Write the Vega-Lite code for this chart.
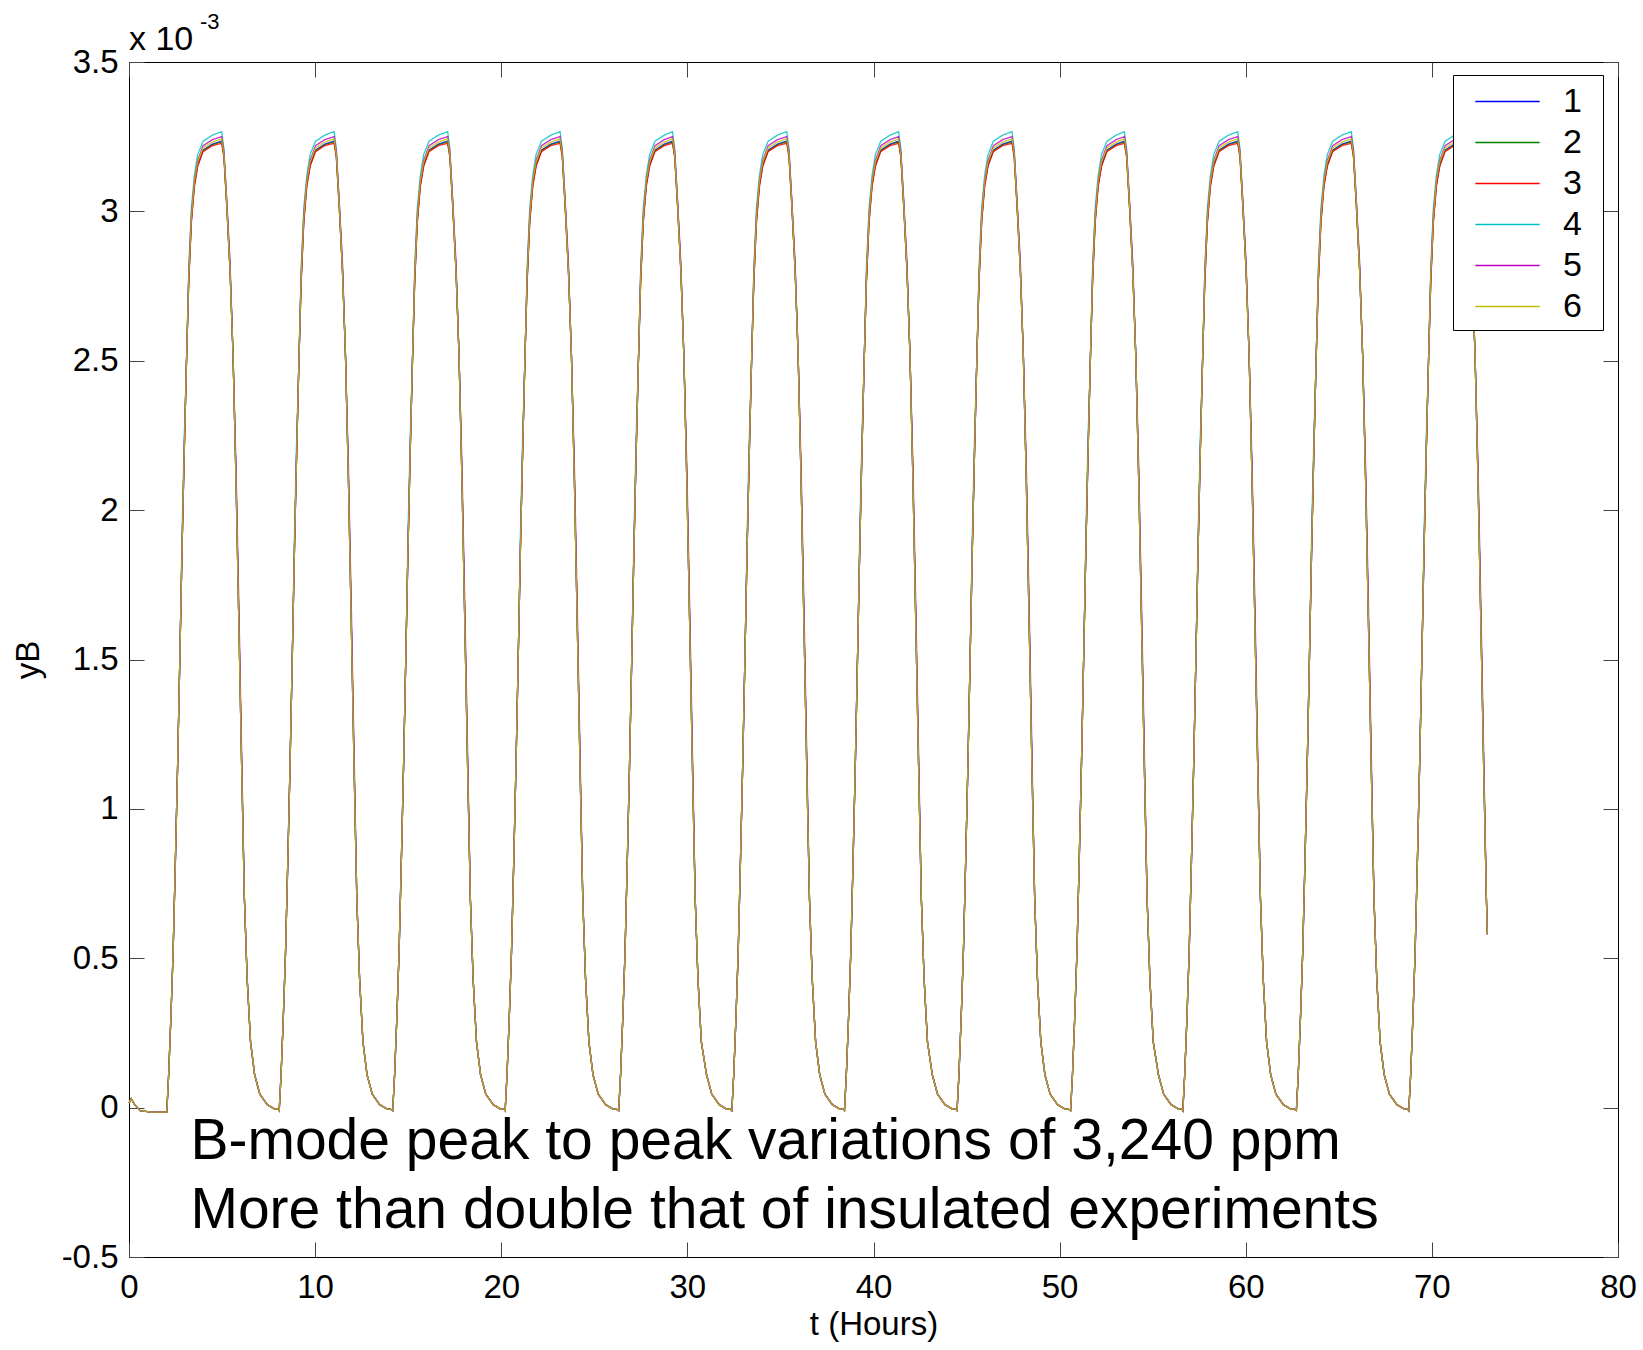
{
"$schema":"https://vega.github.io/schema/vega-lite/v6.json",
"width":1489,"height":1195,
"autosize":{"type":"none"},
"padding":{"left":129,"top":62,"right":25,"bottom":93},
"background":"white",
"config":{
"font":"Liberation Sans",
"view":{"stroke":"#000000","strokeWidth":1},
"axis":{"grid":false,"domain":false,"labelFont":"Liberation Sans","labelFontSize":33,"labelColor":"#000000","titleFont":"Liberation Sans","titleFontSize":33,"titleFontWeight":"normal","titleColor":"#000000","tickColor":"#444444","tickWidth":1,"tickSize":-15}
},
"data":{"values":[
{"t":0,"1":0.015,"2":0.015,"3":0.015,"4":0.015,"5":0.015,"6":0.015},
{"t":0.12,"1":0.03,"2":0.03,"3":0.03,"4":0.03,"5":0.03,"6":0.03},
{"t":0.3,"1":0.01,"2":0.01,"3":0.01,"4":0.01,"5":0.01,"6":0.01},
{"t":0.6,"1":-0.01,"2":-0.01,"3":-0.01,"4":-0.01,"5":-0.01,"6":-0.01},
{"t":1.2,"1":-0.015,"2":-0.015,"3":-0.015,"4":-0.015,"5":-0.015,"6":-0.015},
{"t":2.03,"1":-0.015,"2":-0.015,"3":-0.015,"4":-0.015,"5":-0.015,"6":-0.015},
{"t":2.13,"1":0.11,"2":0.11,"3":0.11,"4":0.11,"5":0.11,"6":0.11},
{"t":2.25,"1":0.3,"2":0.3,"3":0.3,"4":0.3,"5":0.3,"6":0.3},
{"t":2.37,"1":0.52,"2":0.52,"3":0.52,"4":0.52,"5":0.52,"6":0.52},
{"t":2.49,"1":0.82,"2":0.82,"3":0.82,"4":0.82,"5":0.82,"6":0.82},
{"t":2.61,"1":1.14,"2":1.14,"3":1.14,"4":1.14,"5":1.14,"6":1.14},
{"t":2.73,"1":1.5,"2":1.5,"3":1.5,"4":1.5,"5":1.5,"6":1.5},
{"t":2.85,"1":1.87,"2":1.87,"3":1.87,"4":1.92,"5":1.87,"6":1.87},
{"t":2.97,"1":2.2,"2":2.2,"3":2.2,"4":2.25,"5":2.2,"6":2.2},
{"t":3.09,"1":2.5,"2":2.5,"3":2.5,"4":2.5,"5":2.5,"6":2.5},
{"t":3.21,"1":2.77,"2":2.77,"3":2.76,"4":2.81,"5":2.79,"6":2.78},
{"t":3.35,"1":2.97,"2":2.97,"3":2.96,"4":3.01,"5":2.99,"6":2.98},
{"t":3.51,"1":3.09,"2":3.09,"3":3.08,"4":3.12,"5":3.1,"6":3.1},
{"t":3.69,"1":3.155,"2":3.155,"3":3.15,"4":3.19,"5":3.17,"6":3.165},
{"t":3.98,"1":3.205,"2":3.203,"3":3.2,"4":3.235,"5":3.22,"6":3.212},
{"t":4.48,"1":3.225,"2":3.223,"3":3.22,"4":3.255,"5":3.24,"6":3.232},
{"t":4.98,"1":3.235,"2":3.233,"3":3.228,"4":3.267,"5":3.25,"6":3.243},
{"t":5.1,"1":3.19,"2":3.185,"3":3.18,"4":3.21,"5":3.2,"6":3.19},
{"t":5.25,"1":3.03,"2":3.02,"3":3.02,"4":3.04,"5":3.04,"6":3.03},
{"t":5.43,"1":2.8,"2":2.8,"3":2.8,"4":2.81,"5":2.83,"6":2.8},
{"t":5.59,"1":2.52,"2":2.52,"3":2.52,"4":2.52,"5":2.52,"6":2.52},
{"t":5.75,"1":2.1,"2":2.1,"3":2.1,"4":2.1,"5":2.15,"6":2.1},
{"t":5.91,"1":1.6,"2":1.6,"3":1.6,"4":1.6,"5":1.66,"6":1.6},
{"t":6.06,"1":1.12,"2":1.12,"3":1.12,"4":1.12,"5":1.17,"6":1.12},
{"t":6.2,"1":0.7,"2":0.7,"3":0.7,"4":0.7,"5":0.7,"6":0.7},
{"t":6.35,"1":0.43,"2":0.43,"3":0.43,"4":0.43,"5":0.43,"6":0.43},
{"t":6.53,"1":0.22,"2":0.22,"3":0.22,"4":0.22,"5":0.22,"6":0.22},
{"t":6.75,"1":0.11,"2":0.11,"3":0.11,"4":0.11,"5":0.11,"6":0.11},
{"t":7.03,"1":0.045,"2":0.045,"3":0.045,"4":0.045,"5":0.045,"6":0.045},
{"t":7.43,"1":0.01,"2":0.01,"3":0.01,"4":0.01,"5":0.01,"6":0.01},
{"t":7.83,"1":-0.005,"2":-0.005,"3":-0.005,"4":-0.005,"5":-0.005,"6":-0.005},
{"t":8.01,"1":-0.005,"2":-0.005,"3":-0.005,"4":-0.005,"5":-0.005,"6":-0.005},
{"t":8.07,"1":-0.01,"2":-0.01,"3":-0.01,"4":-0.01,"5":-0.01,"6":-0.01},
{"t":8.17,"1":0.11,"2":0.11,"3":0.11,"4":0.11,"5":0.11,"6":0.11},
{"t":8.29,"1":0.3,"2":0.3,"3":0.3,"4":0.3,"5":0.3,"6":0.3},
{"t":8.41,"1":0.52,"2":0.52,"3":0.52,"4":0.52,"5":0.52,"6":0.52},
{"t":8.53,"1":0.82,"2":0.82,"3":0.82,"4":0.82,"5":0.82,"6":0.82},
{"t":8.65,"1":1.14,"2":1.14,"3":1.14,"4":1.14,"5":1.14,"6":1.14},
{"t":8.77,"1":1.5,"2":1.5,"3":1.5,"4":1.5,"5":1.5,"6":1.5},
{"t":8.89,"1":1.87,"2":1.87,"3":1.87,"4":1.92,"5":1.87,"6":1.87},
{"t":9.01,"1":2.2,"2":2.2,"3":2.2,"4":2.25,"5":2.2,"6":2.2},
{"t":9.13,"1":2.5,"2":2.5,"3":2.5,"4":2.5,"5":2.5,"6":2.5},
{"t":9.25,"1":2.77,"2":2.77,"3":2.76,"4":2.81,"5":2.79,"6":2.78},
{"t":9.39,"1":2.97,"2":2.97,"3":2.96,"4":3.01,"5":2.99,"6":2.98},
{"t":9.55,"1":3.09,"2":3.09,"3":3.08,"4":3.12,"5":3.1,"6":3.1},
{"t":9.73,"1":3.155,"2":3.155,"3":3.15,"4":3.19,"5":3.17,"6":3.165},
{"t":10.02,"1":3.205,"2":3.203,"3":3.2,"4":3.235,"5":3.22,"6":3.212},
{"t":10.52,"1":3.225,"2":3.223,"3":3.22,"4":3.255,"5":3.24,"6":3.232},
{"t":11.02,"1":3.235,"2":3.233,"3":3.228,"4":3.267,"5":3.25,"6":3.243},
{"t":11.14,"1":3.19,"2":3.185,"3":3.18,"4":3.21,"5":3.2,"6":3.19},
{"t":11.29,"1":3.03,"2":3.02,"3":3.02,"4":3.04,"5":3.04,"6":3.03},
{"t":11.47,"1":2.8,"2":2.8,"3":2.8,"4":2.81,"5":2.83,"6":2.8},
{"t":11.63,"1":2.52,"2":2.52,"3":2.52,"4":2.52,"5":2.52,"6":2.52},
{"t":11.79,"1":2.1,"2":2.1,"3":2.1,"4":2.1,"5":2.15,"6":2.1},
{"t":11.95,"1":1.6,"2":1.6,"3":1.6,"4":1.6,"5":1.66,"6":1.6},
{"t":12.1,"1":1.12,"2":1.12,"3":1.12,"4":1.12,"5":1.17,"6":1.12},
{"t":12.24,"1":0.7,"2":0.7,"3":0.7,"4":0.7,"5":0.7,"6":0.7},
{"t":12.39,"1":0.43,"2":0.43,"3":0.43,"4":0.43,"5":0.43,"6":0.43},
{"t":12.57,"1":0.22,"2":0.22,"3":0.22,"4":0.22,"5":0.22,"6":0.22},
{"t":12.79,"1":0.11,"2":0.11,"3":0.11,"4":0.11,"5":0.11,"6":0.11},
{"t":13.07,"1":0.045,"2":0.045,"3":0.045,"4":0.045,"5":0.045,"6":0.045},
{"t":13.47,"1":0.01,"2":0.01,"3":0.01,"4":0.01,"5":0.01,"6":0.01},
{"t":13.87,"1":-0.005,"2":-0.005,"3":-0.005,"4":-0.005,"5":-0.005,"6":-0.005},
{"t":14.05,"1":-0.005,"2":-0.005,"3":-0.005,"4":-0.005,"5":-0.005,"6":-0.005},
{"t":14.17,"1":-0.01,"2":-0.01,"3":-0.01,"4":-0.01,"5":-0.01,"6":-0.01},
{"t":14.27,"1":0.11,"2":0.11,"3":0.11,"4":0.11,"5":0.11,"6":0.11},
{"t":14.39,"1":0.3,"2":0.3,"3":0.3,"4":0.3,"5":0.3,"6":0.3},
{"t":14.51,"1":0.52,"2":0.52,"3":0.52,"4":0.52,"5":0.52,"6":0.52},
{"t":14.63,"1":0.82,"2":0.82,"3":0.82,"4":0.82,"5":0.82,"6":0.82},
{"t":14.75,"1":1.14,"2":1.14,"3":1.14,"4":1.14,"5":1.14,"6":1.14},
{"t":14.87,"1":1.5,"2":1.5,"3":1.5,"4":1.5,"5":1.5,"6":1.5},
{"t":14.99,"1":1.87,"2":1.87,"3":1.87,"4":1.92,"5":1.87,"6":1.87},
{"t":15.11,"1":2.2,"2":2.2,"3":2.2,"4":2.25,"5":2.2,"6":2.2},
{"t":15.23,"1":2.5,"2":2.5,"3":2.5,"4":2.5,"5":2.5,"6":2.5},
{"t":15.35,"1":2.77,"2":2.77,"3":2.76,"4":2.81,"5":2.79,"6":2.78},
{"t":15.49,"1":2.97,"2":2.97,"3":2.96,"4":3.01,"5":2.99,"6":2.98},
{"t":15.65,"1":3.09,"2":3.09,"3":3.08,"4":3.12,"5":3.1,"6":3.1},
{"t":15.83,"1":3.155,"2":3.155,"3":3.15,"4":3.19,"5":3.17,"6":3.165},
{"t":16.12,"1":3.205,"2":3.203,"3":3.2,"4":3.235,"5":3.22,"6":3.212},
{"t":16.62,"1":3.225,"2":3.223,"3":3.22,"4":3.255,"5":3.24,"6":3.232},
{"t":17.12,"1":3.235,"2":3.233,"3":3.228,"4":3.267,"5":3.25,"6":3.243},
{"t":17.24,"1":3.19,"2":3.185,"3":3.18,"4":3.21,"5":3.2,"6":3.19},
{"t":17.39,"1":3.03,"2":3.02,"3":3.02,"4":3.04,"5":3.04,"6":3.03},
{"t":17.57,"1":2.8,"2":2.8,"3":2.8,"4":2.81,"5":2.83,"6":2.8},
{"t":17.73,"1":2.52,"2":2.52,"3":2.52,"4":2.52,"5":2.52,"6":2.52},
{"t":17.89,"1":2.1,"2":2.1,"3":2.1,"4":2.1,"5":2.15,"6":2.1},
{"t":18.05,"1":1.6,"2":1.6,"3":1.6,"4":1.6,"5":1.66,"6":1.6},
{"t":18.2,"1":1.12,"2":1.12,"3":1.12,"4":1.12,"5":1.17,"6":1.12},
{"t":18.34,"1":0.7,"2":0.7,"3":0.7,"4":0.7,"5":0.7,"6":0.7},
{"t":18.49,"1":0.43,"2":0.43,"3":0.43,"4":0.43,"5":0.43,"6":0.43},
{"t":18.67,"1":0.22,"2":0.22,"3":0.22,"4":0.22,"5":0.22,"6":0.22},
{"t":18.89,"1":0.11,"2":0.11,"3":0.11,"4":0.11,"5":0.11,"6":0.11},
{"t":19.17,"1":0.045,"2":0.045,"3":0.045,"4":0.045,"5":0.045,"6":0.045},
{"t":19.57,"1":0.01,"2":0.01,"3":0.01,"4":0.01,"5":0.01,"6":0.01},
{"t":19.97,"1":-0.005,"2":-0.005,"3":-0.005,"4":-0.005,"5":-0.005,"6":-0.005},
{"t":20.15,"1":-0.005,"2":-0.005,"3":-0.005,"4":-0.005,"5":-0.005,"6":-0.005},
{"t":20.21,"1":-0.01,"2":-0.01,"3":-0.01,"4":-0.01,"5":-0.01,"6":-0.01},
{"t":20.31,"1":0.11,"2":0.11,"3":0.11,"4":0.11,"5":0.11,"6":0.11},
{"t":20.43,"1":0.3,"2":0.3,"3":0.3,"4":0.3,"5":0.3,"6":0.3},
{"t":20.55,"1":0.52,"2":0.52,"3":0.52,"4":0.52,"5":0.52,"6":0.52},
{"t":20.67,"1":0.82,"2":0.82,"3":0.82,"4":0.82,"5":0.82,"6":0.82},
{"t":20.79,"1":1.14,"2":1.14,"3":1.14,"4":1.14,"5":1.14,"6":1.14},
{"t":20.91,"1":1.5,"2":1.5,"3":1.5,"4":1.5,"5":1.5,"6":1.5},
{"t":21.03,"1":1.87,"2":1.87,"3":1.87,"4":1.92,"5":1.87,"6":1.87},
{"t":21.15,"1":2.2,"2":2.2,"3":2.2,"4":2.25,"5":2.2,"6":2.2},
{"t":21.27,"1":2.5,"2":2.5,"3":2.5,"4":2.5,"5":2.5,"6":2.5},
{"t":21.39,"1":2.77,"2":2.77,"3":2.76,"4":2.81,"5":2.79,"6":2.78},
{"t":21.53,"1":2.97,"2":2.97,"3":2.96,"4":3.01,"5":2.99,"6":2.98},
{"t":21.69,"1":3.09,"2":3.09,"3":3.08,"4":3.12,"5":3.1,"6":3.1},
{"t":21.87,"1":3.155,"2":3.155,"3":3.15,"4":3.19,"5":3.17,"6":3.165},
{"t":22.16,"1":3.205,"2":3.203,"3":3.2,"4":3.235,"5":3.22,"6":3.212},
{"t":22.66,"1":3.225,"2":3.223,"3":3.22,"4":3.255,"5":3.24,"6":3.232},
{"t":23.16,"1":3.235,"2":3.233,"3":3.228,"4":3.267,"5":3.25,"6":3.243},
{"t":23.28,"1":3.19,"2":3.185,"3":3.18,"4":3.21,"5":3.2,"6":3.19},
{"t":23.43,"1":3.03,"2":3.02,"3":3.02,"4":3.04,"5":3.04,"6":3.03},
{"t":23.61,"1":2.8,"2":2.8,"3":2.8,"4":2.81,"5":2.83,"6":2.8},
{"t":23.77,"1":2.52,"2":2.52,"3":2.52,"4":2.52,"5":2.52,"6":2.52},
{"t":23.93,"1":2.1,"2":2.1,"3":2.1,"4":2.1,"5":2.15,"6":2.1},
{"t":24.09,"1":1.6,"2":1.6,"3":1.6,"4":1.6,"5":1.66,"6":1.6},
{"t":24.24,"1":1.12,"2":1.12,"3":1.12,"4":1.12,"5":1.17,"6":1.12},
{"t":24.38,"1":0.7,"2":0.7,"3":0.7,"4":0.7,"5":0.7,"6":0.7},
{"t":24.53,"1":0.43,"2":0.43,"3":0.43,"4":0.43,"5":0.43,"6":0.43},
{"t":24.71,"1":0.22,"2":0.22,"3":0.22,"4":0.22,"5":0.22,"6":0.22},
{"t":24.93,"1":0.11,"2":0.11,"3":0.11,"4":0.11,"5":0.11,"6":0.11},
{"t":25.21,"1":0.045,"2":0.045,"3":0.045,"4":0.045,"5":0.045,"6":0.045},
{"t":25.61,"1":0.01,"2":0.01,"3":0.01,"4":0.01,"5":0.01,"6":0.01},
{"t":26.01,"1":-0.005,"2":-0.005,"3":-0.005,"4":-0.005,"5":-0.005,"6":-0.005},
{"t":26.19,"1":-0.005,"2":-0.005,"3":-0.005,"4":-0.005,"5":-0.005,"6":-0.005},
{"t":26.31,"1":-0.01,"2":-0.01,"3":-0.01,"4":-0.01,"5":-0.01,"6":-0.01},
{"t":26.41,"1":0.11,"2":0.11,"3":0.11,"4":0.11,"5":0.11,"6":0.11},
{"t":26.53,"1":0.3,"2":0.3,"3":0.3,"4":0.3,"5":0.3,"6":0.3},
{"t":26.65,"1":0.52,"2":0.52,"3":0.52,"4":0.52,"5":0.52,"6":0.52},
{"t":26.77,"1":0.82,"2":0.82,"3":0.82,"4":0.82,"5":0.82,"6":0.82},
{"t":26.89,"1":1.14,"2":1.14,"3":1.14,"4":1.14,"5":1.14,"6":1.14},
{"t":27.01,"1":1.5,"2":1.5,"3":1.5,"4":1.5,"5":1.5,"6":1.5},
{"t":27.13,"1":1.87,"2":1.87,"3":1.87,"4":1.92,"5":1.87,"6":1.87},
{"t":27.25,"1":2.2,"2":2.2,"3":2.2,"4":2.25,"5":2.2,"6":2.2},
{"t":27.37,"1":2.5,"2":2.5,"3":2.5,"4":2.5,"5":2.5,"6":2.5},
{"t":27.49,"1":2.77,"2":2.77,"3":2.76,"4":2.81,"5":2.79,"6":2.78},
{"t":27.63,"1":2.97,"2":2.97,"3":2.96,"4":3.01,"5":2.99,"6":2.98},
{"t":27.79,"1":3.09,"2":3.09,"3":3.08,"4":3.12,"5":3.1,"6":3.1},
{"t":27.97,"1":3.155,"2":3.155,"3":3.15,"4":3.19,"5":3.17,"6":3.165},
{"t":28.26,"1":3.205,"2":3.203,"3":3.2,"4":3.235,"5":3.22,"6":3.212},
{"t":28.76,"1":3.225,"2":3.223,"3":3.22,"4":3.255,"5":3.24,"6":3.232},
{"t":29.2,"1":3.235,"2":3.233,"3":3.228,"4":3.267,"5":3.25,"6":3.243},
{"t":29.32,"1":3.19,"2":3.185,"3":3.18,"4":3.21,"5":3.2,"6":3.19},
{"t":29.47,"1":3.03,"2":3.02,"3":3.02,"4":3.04,"5":3.04,"6":3.03},
{"t":29.65,"1":2.8,"2":2.8,"3":2.8,"4":2.81,"5":2.83,"6":2.8},
{"t":29.81,"1":2.52,"2":2.52,"3":2.52,"4":2.52,"5":2.52,"6":2.52},
{"t":29.97,"1":2.1,"2":2.1,"3":2.1,"4":2.1,"5":2.15,"6":2.1},
{"t":30.13,"1":1.6,"2":1.6,"3":1.6,"4":1.6,"5":1.66,"6":1.6},
{"t":30.28,"1":1.12,"2":1.12,"3":1.12,"4":1.12,"5":1.17,"6":1.12},
{"t":30.42,"1":0.7,"2":0.7,"3":0.7,"4":0.7,"5":0.7,"6":0.7},
{"t":30.57,"1":0.43,"2":0.43,"3":0.43,"4":0.43,"5":0.43,"6":0.43},
{"t":30.75,"1":0.22,"2":0.22,"3":0.22,"4":0.22,"5":0.22,"6":0.22},
{"t":31.03,"1":0.11,"2":0.11,"3":0.11,"4":0.11,"5":0.11,"6":0.11},
{"t":31.31,"1":0.045,"2":0.045,"3":0.045,"4":0.045,"5":0.045,"6":0.045},
{"t":31.71,"1":0.01,"2":0.01,"3":0.01,"4":0.01,"5":0.01,"6":0.01},
{"t":32.11,"1":-0.005,"2":-0.005,"3":-0.005,"4":-0.005,"5":-0.005,"6":-0.005},
{"t":32.29,"1":-0.005,"2":-0.005,"3":-0.005,"4":-0.005,"5":-0.005,"6":-0.005},
{"t":32.39,"1":-0.01,"2":-0.01,"3":-0.01,"4":-0.01,"5":-0.01,"6":-0.01},
{"t":32.49,"1":0.11,"2":0.11,"3":0.11,"4":0.11,"5":0.11,"6":0.11},
{"t":32.61,"1":0.3,"2":0.3,"3":0.3,"4":0.3,"5":0.3,"6":0.3},
{"t":32.73,"1":0.52,"2":0.52,"3":0.52,"4":0.52,"5":0.52,"6":0.52},
{"t":32.85,"1":0.82,"2":0.82,"3":0.82,"4":0.82,"5":0.82,"6":0.82},
{"t":32.97,"1":1.14,"2":1.14,"3":1.14,"4":1.14,"5":1.14,"6":1.14},
{"t":33.09,"1":1.5,"2":1.5,"3":1.5,"4":1.5,"5":1.5,"6":1.5},
{"t":33.21,"1":1.87,"2":1.87,"3":1.87,"4":1.92,"5":1.87,"6":1.87},
{"t":33.33,"1":2.2,"2":2.2,"3":2.2,"4":2.25,"5":2.2,"6":2.2},
{"t":33.45,"1":2.5,"2":2.5,"3":2.5,"4":2.5,"5":2.5,"6":2.5},
{"t":33.57,"1":2.77,"2":2.77,"3":2.76,"4":2.81,"5":2.79,"6":2.78},
{"t":33.71,"1":2.97,"2":2.97,"3":2.96,"4":3.01,"5":2.99,"6":2.98},
{"t":33.87,"1":3.09,"2":3.09,"3":3.08,"4":3.12,"5":3.1,"6":3.1},
{"t":34.05,"1":3.155,"2":3.155,"3":3.15,"4":3.19,"5":3.17,"6":3.165},
{"t":34.34,"1":3.205,"2":3.203,"3":3.2,"4":3.235,"5":3.22,"6":3.212},
{"t":34.84,"1":3.225,"2":3.223,"3":3.22,"4":3.255,"5":3.24,"6":3.232},
{"t":35.34,"1":3.235,"2":3.233,"3":3.228,"4":3.267,"5":3.25,"6":3.243},
{"t":35.46,"1":3.19,"2":3.185,"3":3.18,"4":3.21,"5":3.2,"6":3.19},
{"t":35.61,"1":3.03,"2":3.02,"3":3.02,"4":3.04,"5":3.04,"6":3.03},
{"t":35.79,"1":2.8,"2":2.8,"3":2.8,"4":2.81,"5":2.83,"6":2.8},
{"t":35.95,"1":2.52,"2":2.52,"3":2.52,"4":2.52,"5":2.52,"6":2.52},
{"t":36.11,"1":2.1,"2":2.1,"3":2.1,"4":2.1,"5":2.15,"6":2.1},
{"t":36.27,"1":1.6,"2":1.6,"3":1.6,"4":1.6,"5":1.66,"6":1.6},
{"t":36.42,"1":1.12,"2":1.12,"3":1.12,"4":1.12,"5":1.17,"6":1.12},
{"t":36.56,"1":0.7,"2":0.7,"3":0.7,"4":0.7,"5":0.7,"6":0.7},
{"t":36.71,"1":0.43,"2":0.43,"3":0.43,"4":0.43,"5":0.43,"6":0.43},
{"t":36.89,"1":0.22,"2":0.22,"3":0.22,"4":0.22,"5":0.22,"6":0.22},
{"t":37.11,"1":0.11,"2":0.11,"3":0.11,"4":0.11,"5":0.11,"6":0.11},
{"t":37.39,"1":0.045,"2":0.045,"3":0.045,"4":0.045,"5":0.045,"6":0.045},
{"t":37.79,"1":0.01,"2":0.01,"3":0.01,"4":0.01,"5":0.01,"6":0.01},
{"t":38.19,"1":-0.005,"2":-0.005,"3":-0.005,"4":-0.005,"5":-0.005,"6":-0.005},
{"t":38.37,"1":-0.005,"2":-0.005,"3":-0.005,"4":-0.005,"5":-0.005,"6":-0.005},
{"t":38.44,"1":-0.01,"2":-0.01,"3":-0.01,"4":-0.01,"5":-0.01,"6":-0.01},
{"t":38.54,"1":0.11,"2":0.11,"3":0.11,"4":0.11,"5":0.11,"6":0.11},
{"t":38.66,"1":0.3,"2":0.3,"3":0.3,"4":0.3,"5":0.3,"6":0.3},
{"t":38.78,"1":0.52,"2":0.52,"3":0.52,"4":0.52,"5":0.52,"6":0.52},
{"t":38.9,"1":0.82,"2":0.82,"3":0.82,"4":0.82,"5":0.82,"6":0.82},
{"t":39.02,"1":1.14,"2":1.14,"3":1.14,"4":1.14,"5":1.14,"6":1.14},
{"t":39.14,"1":1.5,"2":1.5,"3":1.5,"4":1.5,"5":1.5,"6":1.5},
{"t":39.26,"1":1.87,"2":1.87,"3":1.87,"4":1.92,"5":1.87,"6":1.87},
{"t":39.38,"1":2.2,"2":2.2,"3":2.2,"4":2.25,"5":2.2,"6":2.2},
{"t":39.5,"1":2.5,"2":2.5,"3":2.5,"4":2.5,"5":2.5,"6":2.5},
{"t":39.62,"1":2.77,"2":2.77,"3":2.76,"4":2.81,"5":2.79,"6":2.78},
{"t":39.76,"1":2.97,"2":2.97,"3":2.96,"4":3.01,"5":2.99,"6":2.98},
{"t":39.92,"1":3.09,"2":3.09,"3":3.08,"4":3.12,"5":3.1,"6":3.1},
{"t":40.1,"1":3.155,"2":3.155,"3":3.15,"4":3.19,"5":3.17,"6":3.165},
{"t":40.39,"1":3.205,"2":3.203,"3":3.2,"4":3.235,"5":3.22,"6":3.212},
{"t":40.89,"1":3.225,"2":3.223,"3":3.22,"4":3.255,"5":3.24,"6":3.232},
{"t":41.35,"1":3.235,"2":3.233,"3":3.228,"4":3.267,"5":3.25,"6":3.243},
{"t":41.47,"1":3.19,"2":3.185,"3":3.18,"4":3.21,"5":3.2,"6":3.19},
{"t":41.62,"1":3.03,"2":3.02,"3":3.02,"4":3.04,"5":3.04,"6":3.03},
{"t":41.8,"1":2.8,"2":2.8,"3":2.8,"4":2.81,"5":2.83,"6":2.8},
{"t":41.96,"1":2.52,"2":2.52,"3":2.52,"4":2.52,"5":2.52,"6":2.52},
{"t":42.12,"1":2.1,"2":2.1,"3":2.1,"4":2.1,"5":2.15,"6":2.1},
{"t":42.28,"1":1.6,"2":1.6,"3":1.6,"4":1.6,"5":1.66,"6":1.6},
{"t":42.43,"1":1.12,"2":1.12,"3":1.12,"4":1.12,"5":1.17,"6":1.12},
{"t":42.57,"1":0.7,"2":0.7,"3":0.7,"4":0.7,"5":0.7,"6":0.7},
{"t":42.72,"1":0.43,"2":0.43,"3":0.43,"4":0.43,"5":0.43,"6":0.43},
{"t":42.9,"1":0.22,"2":0.22,"3":0.22,"4":0.22,"5":0.22,"6":0.22},
{"t":43.16,"1":0.11,"2":0.11,"3":0.11,"4":0.11,"5":0.11,"6":0.11},
{"t":43.44,"1":0.045,"2":0.045,"3":0.045,"4":0.045,"5":0.045,"6":0.045},
{"t":43.84,"1":0.01,"2":0.01,"3":0.01,"4":0.01,"5":0.01,"6":0.01},
{"t":44.24,"1":-0.005,"2":-0.005,"3":-0.005,"4":-0.005,"5":-0.005,"6":-0.005},
{"t":44.42,"1":-0.005,"2":-0.005,"3":-0.005,"4":-0.005,"5":-0.005,"6":-0.005},
{"t":44.49,"1":-0.01,"2":-0.01,"3":-0.01,"4":-0.01,"5":-0.01,"6":-0.01},
{"t":44.59,"1":0.11,"2":0.11,"3":0.11,"4":0.11,"5":0.11,"6":0.11},
{"t":44.71,"1":0.3,"2":0.3,"3":0.3,"4":0.3,"5":0.3,"6":0.3},
{"t":44.83,"1":0.52,"2":0.52,"3":0.52,"4":0.52,"5":0.52,"6":0.52},
{"t":44.95,"1":0.82,"2":0.82,"3":0.82,"4":0.82,"5":0.82,"6":0.82},
{"t":45.07,"1":1.14,"2":1.14,"3":1.14,"4":1.14,"5":1.14,"6":1.14},
{"t":45.19,"1":1.5,"2":1.5,"3":1.5,"4":1.5,"5":1.5,"6":1.5},
{"t":45.31,"1":1.87,"2":1.87,"3":1.87,"4":1.92,"5":1.87,"6":1.87},
{"t":45.43,"1":2.2,"2":2.2,"3":2.2,"4":2.25,"5":2.2,"6":2.2},
{"t":45.55,"1":2.5,"2":2.5,"3":2.5,"4":2.5,"5":2.5,"6":2.5},
{"t":45.67,"1":2.77,"2":2.77,"3":2.76,"4":2.81,"5":2.79,"6":2.78},
{"t":45.81,"1":2.97,"2":2.97,"3":2.96,"4":3.01,"5":2.99,"6":2.98},
{"t":45.97,"1":3.09,"2":3.09,"3":3.08,"4":3.12,"5":3.1,"6":3.1},
{"t":46.15,"1":3.155,"2":3.155,"3":3.15,"4":3.19,"5":3.17,"6":3.165},
{"t":46.44,"1":3.205,"2":3.203,"3":3.2,"4":3.235,"5":3.22,"6":3.212},
{"t":46.94,"1":3.225,"2":3.223,"3":3.22,"4":3.255,"5":3.24,"6":3.232},
{"t":47.44,"1":3.235,"2":3.233,"3":3.228,"4":3.267,"5":3.25,"6":3.243},
{"t":47.56,"1":3.19,"2":3.185,"3":3.18,"4":3.21,"5":3.2,"6":3.19},
{"t":47.71,"1":3.03,"2":3.02,"3":3.02,"4":3.04,"5":3.04,"6":3.03},
{"t":47.89,"1":2.8,"2":2.8,"3":2.8,"4":2.81,"5":2.83,"6":2.8},
{"t":48.05,"1":2.52,"2":2.52,"3":2.52,"4":2.52,"5":2.52,"6":2.52},
{"t":48.21,"1":2.1,"2":2.1,"3":2.1,"4":2.1,"5":2.15,"6":2.1},
{"t":48.37,"1":1.6,"2":1.6,"3":1.6,"4":1.6,"5":1.66,"6":1.6},
{"t":48.52,"1":1.12,"2":1.12,"3":1.12,"4":1.12,"5":1.17,"6":1.12},
{"t":48.66,"1":0.7,"2":0.7,"3":0.7,"4":0.7,"5":0.7,"6":0.7},
{"t":48.81,"1":0.43,"2":0.43,"3":0.43,"4":0.43,"5":0.43,"6":0.43},
{"t":48.99,"1":0.22,"2":0.22,"3":0.22,"4":0.22,"5":0.22,"6":0.22},
{"t":49.21,"1":0.11,"2":0.11,"3":0.11,"4":0.11,"5":0.11,"6":0.11},
{"t":49.49,"1":0.045,"2":0.045,"3":0.045,"4":0.045,"5":0.045,"6":0.045},
{"t":49.89,"1":0.01,"2":0.01,"3":0.01,"4":0.01,"5":0.01,"6":0.01},
{"t":50.29,"1":-0.005,"2":-0.005,"3":-0.005,"4":-0.005,"5":-0.005,"6":-0.005},
{"t":50.47,"1":-0.005,"2":-0.005,"3":-0.005,"4":-0.005,"5":-0.005,"6":-0.005},
{"t":50.59,"1":-0.01,"2":-0.01,"3":-0.01,"4":-0.01,"5":-0.01,"6":-0.01},
{"t":50.69,"1":0.11,"2":0.11,"3":0.11,"4":0.11,"5":0.11,"6":0.11},
{"t":50.81,"1":0.3,"2":0.3,"3":0.3,"4":0.3,"5":0.3,"6":0.3},
{"t":50.93,"1":0.52,"2":0.52,"3":0.52,"4":0.52,"5":0.52,"6":0.52},
{"t":51.05,"1":0.82,"2":0.82,"3":0.82,"4":0.82,"5":0.82,"6":0.82},
{"t":51.17,"1":1.14,"2":1.14,"3":1.14,"4":1.14,"5":1.14,"6":1.14},
{"t":51.29,"1":1.5,"2":1.5,"3":1.5,"4":1.5,"5":1.5,"6":1.5},
{"t":51.41,"1":1.87,"2":1.87,"3":1.87,"4":1.92,"5":1.87,"6":1.87},
{"t":51.53,"1":2.2,"2":2.2,"3":2.2,"4":2.25,"5":2.2,"6":2.2},
{"t":51.65,"1":2.5,"2":2.5,"3":2.5,"4":2.5,"5":2.5,"6":2.5},
{"t":51.77,"1":2.77,"2":2.77,"3":2.76,"4":2.81,"5":2.79,"6":2.78},
{"t":51.91,"1":2.97,"2":2.97,"3":2.96,"4":3.01,"5":2.99,"6":2.98},
{"t":52.07,"1":3.09,"2":3.09,"3":3.08,"4":3.12,"5":3.1,"6":3.1},
{"t":52.25,"1":3.155,"2":3.155,"3":3.15,"4":3.19,"5":3.17,"6":3.165},
{"t":52.54,"1":3.205,"2":3.203,"3":3.2,"4":3.235,"5":3.22,"6":3.212},
{"t":53.04,"1":3.225,"2":3.223,"3":3.22,"4":3.255,"5":3.24,"6":3.232},
{"t":53.48,"1":3.235,"2":3.233,"3":3.228,"4":3.267,"5":3.25,"6":3.243},
{"t":53.6,"1":3.19,"2":3.185,"3":3.18,"4":3.21,"5":3.2,"6":3.19},
{"t":53.75,"1":3.03,"2":3.02,"3":3.02,"4":3.04,"5":3.04,"6":3.03},
{"t":53.93,"1":2.8,"2":2.8,"3":2.8,"4":2.81,"5":2.83,"6":2.8},
{"t":54.09,"1":2.52,"2":2.52,"3":2.52,"4":2.52,"5":2.52,"6":2.52},
{"t":54.25,"1":2.1,"2":2.1,"3":2.1,"4":2.1,"5":2.15,"6":2.1},
{"t":54.41,"1":1.6,"2":1.6,"3":1.6,"4":1.6,"5":1.66,"6":1.6},
{"t":54.56,"1":1.12,"2":1.12,"3":1.12,"4":1.12,"5":1.17,"6":1.12},
{"t":54.7,"1":0.7,"2":0.7,"3":0.7,"4":0.7,"5":0.7,"6":0.7},
{"t":54.85,"1":0.43,"2":0.43,"3":0.43,"4":0.43,"5":0.43,"6":0.43},
{"t":55.03,"1":0.22,"2":0.22,"3":0.22,"4":0.22,"5":0.22,"6":0.22},
{"t":55.31,"1":0.11,"2":0.11,"3":0.11,"4":0.11,"5":0.11,"6":0.11},
{"t":55.59,"1":0.045,"2":0.045,"3":0.045,"4":0.045,"5":0.045,"6":0.045},
{"t":55.99,"1":0.01,"2":0.01,"3":0.01,"4":0.01,"5":0.01,"6":0.01},
{"t":56.39,"1":-0.005,"2":-0.005,"3":-0.005,"4":-0.005,"5":-0.005,"6":-0.005},
{"t":56.57,"1":-0.005,"2":-0.005,"3":-0.005,"4":-0.005,"5":-0.005,"6":-0.005},
{"t":56.62,"1":-0.01,"2":-0.01,"3":-0.01,"4":-0.01,"5":-0.01,"6":-0.01},
{"t":56.72,"1":0.11,"2":0.11,"3":0.11,"4":0.11,"5":0.11,"6":0.11},
{"t":56.84,"1":0.3,"2":0.3,"3":0.3,"4":0.3,"5":0.3,"6":0.3},
{"t":56.96,"1":0.52,"2":0.52,"3":0.52,"4":0.52,"5":0.52,"6":0.52},
{"t":57.08,"1":0.82,"2":0.82,"3":0.82,"4":0.82,"5":0.82,"6":0.82},
{"t":57.2,"1":1.14,"2":1.14,"3":1.14,"4":1.14,"5":1.14,"6":1.14},
{"t":57.32,"1":1.5,"2":1.5,"3":1.5,"4":1.5,"5":1.5,"6":1.5},
{"t":57.44,"1":1.87,"2":1.87,"3":1.87,"4":1.92,"5":1.87,"6":1.87},
{"t":57.56,"1":2.2,"2":2.2,"3":2.2,"4":2.25,"5":2.2,"6":2.2},
{"t":57.68,"1":2.5,"2":2.5,"3":2.5,"4":2.5,"5":2.5,"6":2.5},
{"t":57.8,"1":2.77,"2":2.77,"3":2.76,"4":2.81,"5":2.79,"6":2.78},
{"t":57.94,"1":2.97,"2":2.97,"3":2.96,"4":3.01,"5":2.99,"6":2.98},
{"t":58.1,"1":3.09,"2":3.09,"3":3.08,"4":3.12,"5":3.1,"6":3.1},
{"t":58.28,"1":3.155,"2":3.155,"3":3.15,"4":3.19,"5":3.17,"6":3.165},
{"t":58.57,"1":3.205,"2":3.203,"3":3.2,"4":3.235,"5":3.22,"6":3.212},
{"t":59.07,"1":3.225,"2":3.223,"3":3.22,"4":3.255,"5":3.24,"6":3.232},
{"t":59.57,"1":3.235,"2":3.233,"3":3.228,"4":3.267,"5":3.25,"6":3.243},
{"t":59.69,"1":3.19,"2":3.185,"3":3.18,"4":3.21,"5":3.2,"6":3.19},
{"t":59.84,"1":3.03,"2":3.02,"3":3.02,"4":3.04,"5":3.04,"6":3.03},
{"t":60.02,"1":2.8,"2":2.8,"3":2.8,"4":2.81,"5":2.83,"6":2.8},
{"t":60.18,"1":2.52,"2":2.52,"3":2.52,"4":2.52,"5":2.52,"6":2.52},
{"t":60.34,"1":2.1,"2":2.1,"3":2.1,"4":2.1,"5":2.15,"6":2.1},
{"t":60.5,"1":1.6,"2":1.6,"3":1.6,"4":1.6,"5":1.66,"6":1.6},
{"t":60.65,"1":1.12,"2":1.12,"3":1.12,"4":1.12,"5":1.17,"6":1.12},
{"t":60.79,"1":0.7,"2":0.7,"3":0.7,"4":0.7,"5":0.7,"6":0.7},
{"t":60.94,"1":0.43,"2":0.43,"3":0.43,"4":0.43,"5":0.43,"6":0.43},
{"t":61.12,"1":0.22,"2":0.22,"3":0.22,"4":0.22,"5":0.22,"6":0.22},
{"t":61.34,"1":0.11,"2":0.11,"3":0.11,"4":0.11,"5":0.11,"6":0.11},
{"t":61.62,"1":0.045,"2":0.045,"3":0.045,"4":0.045,"5":0.045,"6":0.045},
{"t":62.02,"1":0.01,"2":0.01,"3":0.01,"4":0.01,"5":0.01,"6":0.01},
{"t":62.42,"1":-0.005,"2":-0.005,"3":-0.005,"4":-0.005,"5":-0.005,"6":-0.005},
{"t":62.6,"1":-0.005,"2":-0.005,"3":-0.005,"4":-0.005,"5":-0.005,"6":-0.005},
{"t":62.72,"1":-0.01,"2":-0.01,"3":-0.01,"4":-0.01,"5":-0.01,"6":-0.01},
{"t":62.82,"1":0.11,"2":0.11,"3":0.11,"4":0.11,"5":0.11,"6":0.11},
{"t":62.94,"1":0.3,"2":0.3,"3":0.3,"4":0.3,"5":0.3,"6":0.3},
{"t":63.06,"1":0.52,"2":0.52,"3":0.52,"4":0.52,"5":0.52,"6":0.52},
{"t":63.18,"1":0.82,"2":0.82,"3":0.82,"4":0.82,"5":0.82,"6":0.82},
{"t":63.3,"1":1.14,"2":1.14,"3":1.14,"4":1.14,"5":1.14,"6":1.14},
{"t":63.42,"1":1.5,"2":1.5,"3":1.5,"4":1.5,"5":1.5,"6":1.5},
{"t":63.54,"1":1.87,"2":1.87,"3":1.87,"4":1.92,"5":1.87,"6":1.87},
{"t":63.66,"1":2.2,"2":2.2,"3":2.2,"4":2.25,"5":2.2,"6":2.2},
{"t":63.78,"1":2.5,"2":2.5,"3":2.5,"4":2.5,"5":2.5,"6":2.5},
{"t":63.9,"1":2.77,"2":2.77,"3":2.76,"4":2.81,"5":2.79,"6":2.78},
{"t":64.04,"1":2.97,"2":2.97,"3":2.96,"4":3.01,"5":2.99,"6":2.98},
{"t":64.2,"1":3.09,"2":3.09,"3":3.08,"4":3.12,"5":3.1,"6":3.1},
{"t":64.38,"1":3.155,"2":3.155,"3":3.15,"4":3.19,"5":3.17,"6":3.165},
{"t":64.67,"1":3.205,"2":3.203,"3":3.2,"4":3.235,"5":3.22,"6":3.212},
{"t":65.17,"1":3.225,"2":3.223,"3":3.22,"4":3.255,"5":3.24,"6":3.232},
{"t":65.67,"1":3.235,"2":3.233,"3":3.228,"4":3.267,"5":3.25,"6":3.243},
{"t":65.79,"1":3.19,"2":3.185,"3":3.18,"4":3.21,"5":3.2,"6":3.19},
{"t":65.94,"1":3.03,"2":3.02,"3":3.02,"4":3.04,"5":3.04,"6":3.03},
{"t":66.12,"1":2.8,"2":2.8,"3":2.8,"4":2.81,"5":2.83,"6":2.8},
{"t":66.28,"1":2.52,"2":2.52,"3":2.52,"4":2.52,"5":2.52,"6":2.52},
{"t":66.44,"1":2.1,"2":2.1,"3":2.1,"4":2.1,"5":2.15,"6":2.1},
{"t":66.6,"1":1.6,"2":1.6,"3":1.6,"4":1.6,"5":1.66,"6":1.6},
{"t":66.75,"1":1.12,"2":1.12,"3":1.12,"4":1.12,"5":1.17,"6":1.12},
{"t":66.89,"1":0.7,"2":0.7,"3":0.7,"4":0.7,"5":0.7,"6":0.7},
{"t":67.04,"1":0.43,"2":0.43,"3":0.43,"4":0.43,"5":0.43,"6":0.43},
{"t":67.22,"1":0.22,"2":0.22,"3":0.22,"4":0.22,"5":0.22,"6":0.22},
{"t":67.44,"1":0.11,"2":0.11,"3":0.11,"4":0.11,"5":0.11,"6":0.11},
{"t":67.72,"1":0.045,"2":0.045,"3":0.045,"4":0.045,"5":0.045,"6":0.045},
{"t":68.12,"1":0.01,"2":0.01,"3":0.01,"4":0.01,"5":0.01,"6":0.01},
{"t":68.52,"1":-0.005,"2":-0.005,"3":-0.005,"4":-0.005,"5":-0.005,"6":-0.005},
{"t":68.7,"1":-0.005,"2":-0.005,"3":-0.005,"4":-0.005,"5":-0.005,"6":-0.005},
{"t":68.76,"1":-0.01,"2":-0.01,"3":-0.01,"4":-0.01,"5":-0.01,"6":-0.01},
{"t":68.86,"1":0.11,"2":0.11,"3":0.11,"4":0.11,"5":0.11,"6":0.11},
{"t":68.98,"1":0.3,"2":0.3,"3":0.3,"4":0.3,"5":0.3,"6":0.3},
{"t":69.1,"1":0.52,"2":0.52,"3":0.52,"4":0.52,"5":0.52,"6":0.52},
{"t":69.22,"1":0.82,"2":0.82,"3":0.82,"4":0.82,"5":0.82,"6":0.82},
{"t":69.34,"1":1.14,"2":1.14,"3":1.14,"4":1.14,"5":1.14,"6":1.14},
{"t":69.46,"1":1.5,"2":1.5,"3":1.5,"4":1.5,"5":1.5,"6":1.5},
{"t":69.58,"1":1.87,"2":1.87,"3":1.87,"4":1.92,"5":1.87,"6":1.87},
{"t":69.7,"1":2.2,"2":2.2,"3":2.2,"4":2.25,"5":2.2,"6":2.2},
{"t":69.82,"1":2.5,"2":2.5,"3":2.5,"4":2.5,"5":2.5,"6":2.5},
{"t":69.94,"1":2.77,"2":2.77,"3":2.76,"4":2.81,"5":2.79,"6":2.78},
{"t":70.08,"1":2.97,"2":2.97,"3":2.96,"4":3.01,"5":2.99,"6":2.98},
{"t":70.24,"1":3.09,"2":3.09,"3":3.08,"4":3.12,"5":3.1,"6":3.1},
{"t":70.42,"1":3.155,"2":3.155,"3":3.15,"4":3.19,"5":3.17,"6":3.165},
{"t":70.71,"1":3.205,"2":3.203,"3":3.2,"4":3.235,"5":3.22,"6":3.212},
{"t":71.21,"1":3.225,"2":3.223,"3":3.22,"4":3.255,"5":3.24,"6":3.232},
{"t":71.71,"1":3.235,"2":3.233,"3":3.228,"4":3.267,"5":3.25,"6":3.243},
{"t":71.83,"1":3.19,"2":3.185,"3":3.18,"4":3.21,"5":3.2,"6":3.19},
{"t":71.98,"1":3.03,"2":3.02,"3":3.02,"4":3.04,"5":3.04,"6":3.03},
{"t":72.16,"1":2.8,"2":2.8,"3":2.8,"4":2.81,"5":2.83,"6":2.8},
{"t":72.32,"1":2.52,"2":2.52,"3":2.52,"4":2.52,"5":2.52,"6":2.52},
{"t":72.48,"1":2.1,"2":2.1,"3":2.1,"4":2.1,"5":2.15,"6":2.1},
{"t":72.64,"1":1.6,"2":1.6,"3":1.6,"4":1.6,"5":1.66,"6":1.6},
{"t":72.79,"1":1.12,"2":1.12,"3":1.12,"4":1.12,"5":1.17,"6":1.12},
{"t":72.93,"1":0.7,"2":0.7,"3":0.7,"4":0.7,"5":0.7,"6":0.7},
{"t":72.98,"1":0.58,"2":0.58,"3":0.58,"4":0.58,"5":0.58,"6":0.58}
]},
"layer":[
{"transform":[{"fold":["1","2","3","4","5","6"],"as":["series","yB"]}],
"mark":{"type":"line","strokeWidth":1.3,"strokeOpacity":0.82},
"encoding":{
"x":{"field":"t","type":"quantitative","scale":{"domain":[0,80],"nice":false,"zero":false},
"axis":{"orient":"bottom","values":[0,10,20,30,40,50,60,70,80],"title":"t (Hours)","labelPadding":29,"titlePadding":4,"labelFlush":false}},
"y":{"field":"yB","type":"quantitative","scale":{"domain":[-0.5,3.5],"nice":false,"zero":false},
"axis":{"orient":"left","values":[-0.5,0,0.5,1,1.5,2,2.5,3,3.5],"title":"yB","labelExpr":"datum.value < 0 ? '-' + format(-datum.value, '~g') : format(datum.value, '~g')","labelPadding":26,"titlePadding":16,"labelFlush":false}},
"color":{"field":"series","type":"nominal","scale":{"domain":["1","2","3","4","5","6"],"range":["#0000FF","#008000","#FF0000","#00BFBF","#BF00BF","#BFBF00"]},
"legend":{"orient":"none","legendX":1324,"legendY":13,"title":"\u00a0","titleOrient":"right","titleFontSize":20,"titlePadding":15,"fillColor":"#FFFFFF","strokeColor":"#000000","padding":6,"symbolType":"M-1.65,0H1.65","symbolSize":1521,"symbolStrokeWidth":1.5,"symbolOffset":28,"symbolOpacity":1,"labelFont":"Liberation Sans","labelFontSize":34,"labelColor":"#000000","labelOffset":35,"rowPadding":3}}
}},
{"mark":{"type":"point","opacity":0},
"encoding":{
"x":{"field":"t","type":"quantitative","scale":{"domain":[0,80],"nice":false,"zero":false},"axis":{"orient":"top","labels":false,"title":null,"values":[0,10,20,30,40,50,60,70,80]}},
"y":{"field":"1","type":"quantitative","scale":{"domain":[-0.5,3.5],"nice":false,"zero":false},"axis":{"orient":"right","labels":false,"title":null,"values":[-0.5,0,0.5,1,1.5,2,2.5,3,3.5]}}
}},
{"data":{"values":[{}]},
"mark":{"type":"text","align":"left","baseline":"alphabetic","fontSize":34,"fontWeight":"normal","font":"Liberation Sans","color":"#000000","dy":-12},
"encoding":{"x":{"datum":0,"type":"quantitative","axis":null},"y":{"datum":3.5,"type":"quantitative","axis":null},"text":{"value":"x 10"}}},
{"data":{"values":[{}]},
"mark":{"type":"text","align":"left","baseline":"alphabetic","fontSize":22,"fontWeight":"normal","font":"Liberation Sans","color":"#000000","dx":71,"dy":-33},
"encoding":{"x":{"datum":0,"type":"quantitative","axis":null},"y":{"datum":3.5,"type":"quantitative","axis":null},"text":{"value":"-3"}}},
{"data":{"values":[{}]},
"mark":{"type":"text","align":"left","baseline":"alphabetic","fontSize":57,"lineHeight":69,"font":"Liberation Sans","color":"#000000"},
"encoding":{"x":{"datum":3.3,"type":"quantitative","axis":null},"y":{"datum":-0.173,"type":"quantitative","axis":null},"text":{"value":["B-mode peak to peak variations of 3,240 ppm","More than double that of insulated experiments"]}}}
],
"resolve":{"axis":{"x":"independent","y":"independent"}}
}
